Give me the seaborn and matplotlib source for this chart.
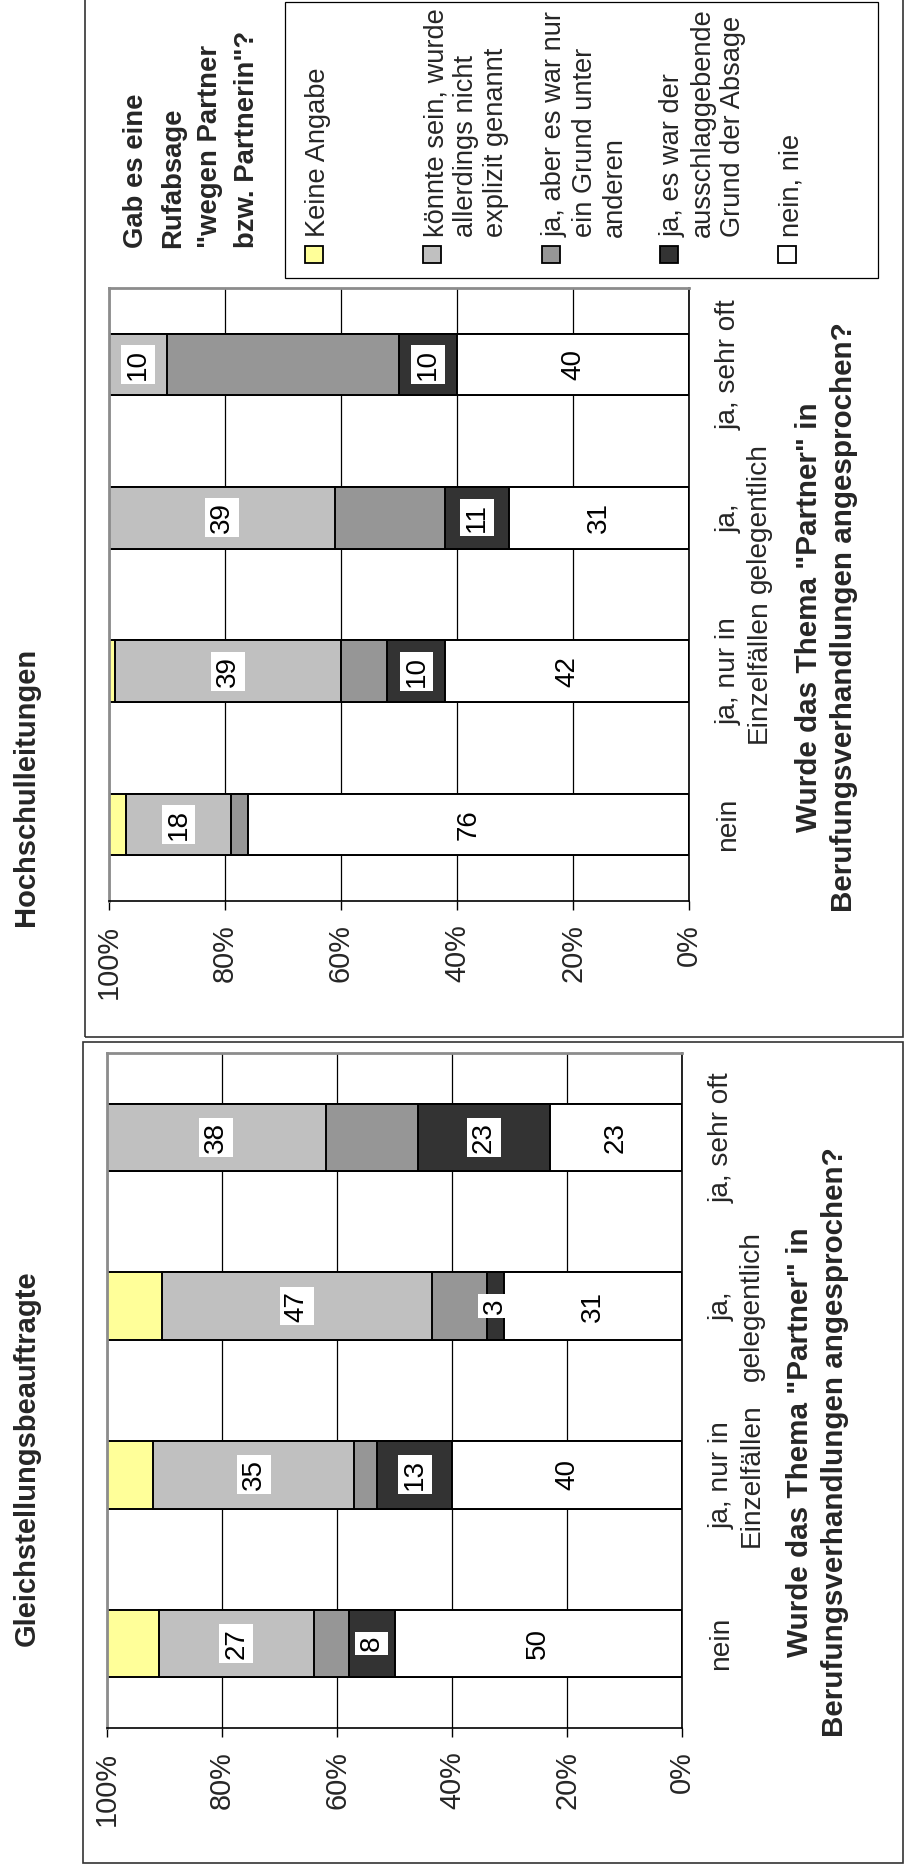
import matplotlib
matplotlib.use("Agg")
import matplotlib.pyplot as plt
from matplotlib.patches import Rectangle
import numpy as np
import pandas as pd
import seaborn as sns

# ---------------------------------------------------------------- data
categories = ["nein", "ja, nur in\nEinzelfällen", "ja,\ngelegentlich", "ja, sehr oft"]

series_names = [
    "nein, nie",
    "ja, es war der\nausschlaggebende\nGrund der Absage",
    "ja, aber es war nur\nein Grund unter\nanderen",
    "könnte sein, wurde\nallerdings nicht\nexplizit genannt",
    "Keine Angabe",
]
series_colors = ["#FFFFFF", "#333333", "#969696", "#C0C0C0", "#FFFF99"]
series_labelled = [True, True, False, True, False]

# Hochschulleitungen (percent per category)
hl_nein_nie = [76, 42, 31, 40]
hl_ausschlag = [0, 10, 11, 10]
hl_ein_grund = [3, 8, 19, 40]
hl_koennte = [18, 39, 39, 10]
hl_keine = [3, 1, 0, 0]

# Gleichstellungsbeauftragte (percent per category)
gb_nein_nie = [50, 40, 31, 23]
gb_ausschlag = [8, 13, 3, 23]
gb_ein_grund = [6, 4, 9.5, 16]
gb_koennte = [27, 35, 47, 38]
gb_keine = [9, 8, 9.5, 0]

value_ticks = [0, 20, 40, 60, 80, 100]
value_tick_labels = ["0%", "20%", "40%", "60%", "80%", "100%"]

panel_titles = ["Hochschulleitungen", "Gleichstellungsbeauftragte"]
axis_title = 'Wurde das Thema "Partner" in\nBerufungsverhandlungen angesprochen?'
legend_title = 'Gab es eine\nRufabsage\n"wegen Partner\nbzw. Partnerin"?'

# ---------------------------------------------------------------- style
sns.set_theme(style="white")
plt.rcParams["font.family"] = ["Liberation Sans", "DejaVu Sans"]
FS_TICK = 20.8
FS_CAT = 20.2
FS_BAR = 20
FS_LEG = 19.6
FS_TITLE = 21
FS_AXTITLE = 21.3
FS_LEGTITLE = 19.8

W, H = 905, 1870


def fx(px):
    return px / W


def fy(py):
    return 1 - py / H


fig = plt.figure(figsize=(W / 100, H / 100), dpi=100)
fig.patch.set_facecolor("white")


def draw_panel(ax, series):
    order = categories[::-1]          # top row first
    vals = np.array(series, dtype=float)
    cum = np.cumsum(vals, axis=0)
    # stacked bars: draw cumulative totals from the outermost layer inwards
    for i in range(len(series) - 1, -1, -1):
        df = pd.DataFrame({"Kategorie": categories, "Anteil": cum[i]})
        sns.barplot(data=df, x="Anteil", y="Kategorie", order=order, orient="y",
                    color=series_colors[i], saturation=1, width=0.4,
                    edgecolor="black", linewidth=1.4, errorbar=None, ax=ax)
    # value labels in white boxes
    for i, labelled in enumerate(series_labelled):
        if not labelled:
            continue
        for j, cat in enumerate(categories):
            v = vals[i, j]
            if v <= 0:
                continue
            ax.text(cum[i, j] - v / 2, order.index(cat), f"{v:g}",
                    rotation=90, ha="center", va="center", fontsize=FS_BAR,
                    color="black", zorder=6,
                    bbox=dict(boxstyle="square,pad=0.14", fc="white", ec="none"))

    ax.set_facecolor("white")
    ax.set_xlim(100, 0)
    ax.set_ylim(3.5, -0.5)
    ax.set_xlabel("")
    ax.set_ylabel("")
    ax.set_xticks(value_ticks)
    ax.set_xticklabels(value_tick_labels, rotation=90)
    ax.tick_params(axis="x", bottom=True, length=6.5, width=1.0, color="black",
                   pad=10.5, labelsize=FS_TICK, direction="out")
    ax.yaxis.tick_right()
    ax.tick_params(axis="y", length=0, pad=19, labelsize=FS_CAT)
    plt.setp(ax.get_yticklabels(), rotation=90, va="center", ha="left",
             multialignment="center")
    ax.grid(axis="x", color="black", linewidth=0.9)
    ax.grid(axis="y", visible=False)
    ax.set_axisbelow(True)
    for s in ["left", "top"]:
        ax.spines[s].set_color("#8c8c8c")
        ax.spines[s].set_linewidth(2.0)
    for s in ["right", "bottom"]:
        ax.spines[s].set_color("black")
        ax.spines[s].set_linewidth(1.2)


# ---------------------------------------------------------------- panels
ax_hl = fig.add_axes([fx(109), fy(901), (689 - 109) / W, (901 - 288) / H])
draw_panel(ax_hl, [hl_nein_nie, hl_ausschlag, hl_ein_grund, hl_koennte, hl_keine])

ax_gb = fig.add_axes([fx(107), fy(1728), (682 - 107) / W, (1728 - 1053) / H])
draw_panel(ax_gb, [gb_nein_nie, gb_ausschlag, gb_ein_grund, gb_koennte, gb_keine])

# outer frames of both panels
for (x0, y0, x1, y1) in [(85, -10, 903, 1037), (83, 1042, 903, 1863)]:
    fig.add_artist(Rectangle((fx(x0), fy(y1)), (x1 - x0) / W, (y1 - y0) / H,
                             transform=fig.transFigure, fill=False,
                             ec="#333333", lw=1.2, zorder=0))

# panel titles
fig.text(fx(11.5), fy(787), panel_titles[0], rotation=90, ha="left", va="center",
         fontsize=FS_TITLE, fontweight="bold")
fig.text(fx(13), fy(1458), panel_titles[1], rotation=90, ha="left", va="center",
         fontsize=FS_TITLE, fontweight="bold")

# category axis titles
fig.text(fx(795), fy(617), axis_title, rotation=90, ha="left", va="center",
         multialignment="center", fontsize=FS_AXTITLE, fontweight="bold",
         linespacing=1.33)
fig.text(fx(786), fy(1442), axis_title, rotation=90, ha="left", va="center",
         multialignment="center", fontsize=FS_AXTITLE, fontweight="bold",
         linespacing=1.33)

# ---------------------------------------------------------------- legend
fig.add_artist(Rectangle((fx(285), fy(278)), (878 - 285) / W, (278 - 2) / H,
                         transform=fig.transFigure, fill=True, fc="white",
                         ec="black", lw=0.9, zorder=1))
fig.text(fx(123), fy(248), legend_title, rotation=90, ha="left", va="bottom",
         multialignment="left", fontsize=FS_LEGTITLE, fontweight="bold",
         linespacing=1.55)

legend_order = [4, 3, 2, 1, 0]
for k, idx in enumerate(legend_order):
    xl = 305 + k * 118.3
    fig.add_artist(Rectangle((fx(xl), fy(263)), 18 / W, 17 / H,
                             transform=fig.transFigure, fc=series_colors[idx],
                             ec="black", lw=1.3, zorder=2))
    fig.text(fx(xl), fy(237), series_names[idx], rotation=90, ha="left",
             va="bottom", multialignment="left", fontsize=FS_LEG, zorder=3)

fig.savefig("out.png", dpi=100)
